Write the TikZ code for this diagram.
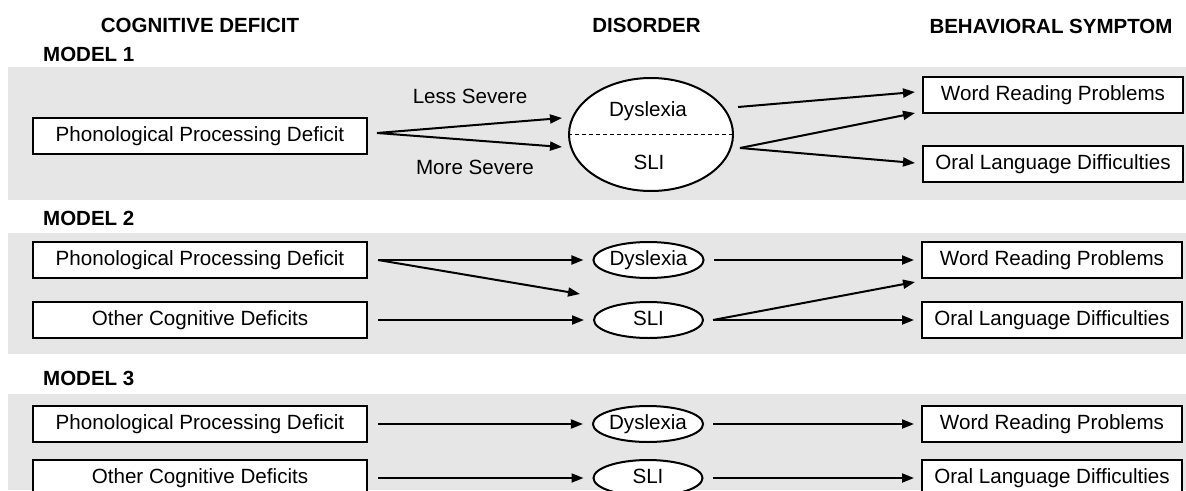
\documentclass[tikz,border=0pt]{standalone}
\usepackage{fontspec}
\setmainfont{Liberation Sans}
\usetikzlibrary{arrows.meta,shapes.geometric,calc}
\definecolor{bandgray}{HTML}{E6E6E6}
\begin{document}
\begin{tikzpicture}[x=1pt,y=-1pt,
  font=\fontsize{20.6}{24}\selectfont,
  band/.style={fill=bandgray,draw=none},
  head/.style={font=\fontsize{20.5}{24}\selectfont\bfseries,inner sep=0pt,text height=14.8pt,text depth=0pt},
  lbl/.style={inner sep=0pt,text height=14.8pt,text depth=0pt},
  leftbox/.style={draw,line width=2pt,fill=white,minimum width=334pt,minimum height=36pt,inner sep=0pt,text height=14.8pt,text depth=4.3pt},
  rightbox/.style={leftbox,minimum width=260pt},
  smallell/.style={ellipse,draw,line width=2pt,fill=white,minimum width=109pt,minimum height=36pt,inner sep=0pt,text height=14.8pt,text depth=4.3pt},
  arr/.style={line width=2pt,-{Triangle[length=12pt,width=9pt]}},
]
\clip (0,0) rectangle (1186,490);
\fill[white] (0,0) rectangle (1186,490);
% bands
\fill[band] (8,67) rectangle (1186,200);
\fill[band] (8,233) rectangle (1186,354);
\fill[band] (8,394) rectangle (1186,490);
% headings
\node[head] (h1) at (200,25) {COGNITIVE DEFICIT};
\node[head] (h2) at (646.5,25) {DISORDER};
\node[head] (h3) at (1051,26) {BEHAVIORAL SYMPTOM};
\node[head,anchor=west] (mo1) at (43,54.5) {MODEL 1};
\node[head,anchor=west] (mo2) at (43,218) {MODEL 2};
\node[head,anchor=west] (mo3) at (43,378) {MODEL 3};

% ---------- Model 1
\node[leftbox] (m1p) at (200,136) {Phonological Processing Deficit};
\node[ellipse,draw,line width=2pt,fill=white,minimum width=164pt,minimum height=113pt,inner sep=0pt] (m1e) at (651,134.5) {};
\draw[line width=1.5pt,dash pattern=on 4pt off 3pt] (m1e.west) -- (m1e.east);
\node[lbl] (m1d) at (648,109.5) {Dyslexia};
\node[lbl] (m1s) at (649,162) {SLI};
\node[lbl] (ls) at (470,96.5) {Less Severe};
\node[lbl] (ms) at (475,167.5) {More Severe};
\node[rightbox] (m1w) at (1053,95) {Word Reading Problems};
\node[rightbox] (m1o) at (1053,164) {Oral Language Difficulties};
\coordinate (m1f) at (377,133);
\coordinate (m1t1) at (562,118);
\coordinate (m1t2) at (562,147);
\draw[arr] (m1f) -- (m1t1);
\draw[arr] (m1f) -- (m1t2);
\coordinate (m1a) at (738,107);
\coordinate (m1b) at (740,148);
\coordinate (m1wa) at (915,92);
\coordinate (m1wb) at (915,113);
\coordinate (m1oa) at (915,163);
\draw[arr] (m1a) -- (m1wa);
\draw[arr] (m1b) -- (m1wb);
\draw[arr] (m1b) -- (m1oa);

% ---------- Model 2
\node[leftbox] (m2p) at (200,260) {Phonological Processing Deficit};
\node[leftbox] (m2c) at (200,320) {Other Cognitive Deficits};
\node[smallell] (m2d) at (648.5,260) {Dyslexia};
\node[smallell] (m2s) at (648.5,320) {SLI};
\node[rightbox] (m2w) at (1052,260) {Word Reading Problems};
\node[rightbox] (m2o) at (1052,320) {Oral Language Difficulties};
\draw[arr,shorten <=10pt,shorten >=9pt] (m2p.east) -- (m2d.west);
\draw[arr,shorten <=10pt,shorten >=9pt] (m2c.east) -- (m2s.west);
\coordinate (m2f) at ($(m2p.east)+(10,0)$);
\coordinate (m2x) at (580,294);
\draw[arr] (m2f) -- (m2x);
\draw[arr,shorten <=9pt,shorten >=7pt] (m2d.east) -- (m2w.west);
\draw[arr,shorten <=9pt,shorten >=7pt] (m2s.east) -- (m2o.west);
\coordinate (m2g) at ($(m2s.east)+(9,0)$);
\coordinate (m2y) at (915,282);
\draw[arr] (m2g) -- (m2y);

% ---------- Model 3
\node[leftbox] (m3p) at (200,424) {Phonological Processing Deficit};
\node[leftbox] (m3c) at (200,478) {Other Cognitive Deficits};
\node[smallell] (m3d) at (648,424) {Dyslexia};
\node[smallell] (m3s) at (648,478) {SLI};
\node[rightbox] (m3w) at (1052,424) {Word Reading Problems};
\node[rightbox] (m3o) at (1052,478) {Oral Language Difficulties};
\draw[arr,shorten <=10pt,shorten >=9pt] (m3p.east) -- (m3d.west);
\draw[arr,shorten <=10pt,shorten >=9pt] (m3c.east) -- (m3s.west);
\draw[arr,shorten <=9pt,shorten >=7pt] (m3d.east) -- (m3w.west);
\draw[arr,shorten <=9pt,shorten >=7pt] (m3s.east) -- (m3o.west);
\end{tikzpicture}
\end{document}
